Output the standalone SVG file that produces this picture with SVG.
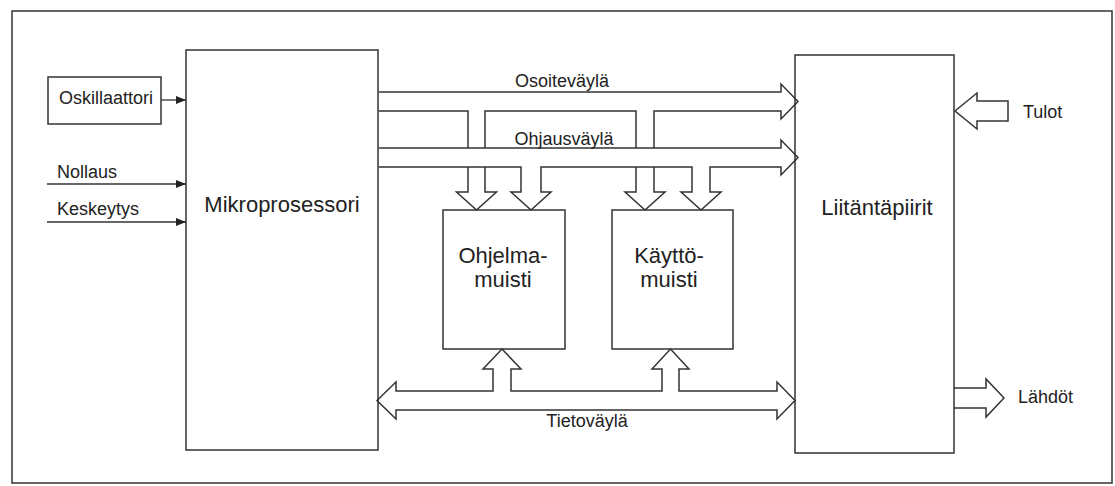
<svg xmlns="http://www.w3.org/2000/svg" width="1115" height="486" viewBox="0 0 1115 486">
<style>
.box{fill:none;stroke:#333;stroke-width:1.5}
.bus{fill:none;stroke:#333;stroke-width:1.5;stroke-linejoin:miter}
.ln{fill:none;stroke:#333;stroke-width:1.3}
.t{font-family:"Liberation Sans",Arial,sans-serif;fill:#222}
.s18{font-size:18px}
.s22{font-size:22px}
</style>
<defs>
<marker id="ah" viewBox="0 0 10 8" refX="10" refY="4" markerWidth="10" markerHeight="8" markerUnits="userSpaceOnUse" orient="auto">
<path d="M0,0 L10,4 L0,8 Z" fill="#222"/>
</marker>
</defs>
<rect width="1115" height="486" fill="#fff"/>
<rect id="frame" x="12" y="11" width="1100" height="472" class="box"/>

<g id="oskillaattori">
<rect x="48" y="77" width="113" height="47" class="box"/>
<text x="59" y="104" class="t s18">Oskillaattori</text>
</g>
<g id="nollaus"><text x="57" y="178" class="t s18">Nollaus</text></g>
<g id="keskeytys"><text x="57" y="215" class="t s18">Keskeytys</text></g>

<g id="mikroprosessori">
<rect x="186" y="50" width="192" height="400" class="box"/>
<text x="282" y="212" class="t s22" text-anchor="middle">Mikroprosessori</text>
</g>

<g id="ohjelmamuisti">
<rect x="443" y="210" width="122" height="139" class="box"/>
<text x="503" y="263" class="t s22" text-anchor="middle">Ohjelma-</text>
<text x="503" y="287" class="t s22" text-anchor="middle">muisti</text>
</g>

<g id="kayttomuisti">
<rect x="612" y="210" width="121" height="139" class="box"/>
<text x="669" y="263" class="t s22" text-anchor="middle">Käyttö-</text>
<text x="669" y="287" class="t s22" text-anchor="middle">muisti</text>
</g>

<g id="liitantapiirit">
<rect x="795" y="55" width="159" height="398" class="box"/>
<text x="877" y="215" class="t s22" text-anchor="middle">Liitäntäpiirit</text>
</g>

<g id="tulot"><text x="1023" y="118" class="t s18">Tulot</text></g>
<g id="lahdot"><text x="1018" y="403" class="t s18">Lähdöt</text></g>

<g id="connectors">
<line x1="161" y1="100" x2="186" y2="100" class="ln" marker-end="url(#ah)"/>
<line x1="47" y1="184" x2="186" y2="184" class="ln" marker-end="url(#ah)"/>
<line x1="47" y1="222" x2="186" y2="222" class="ln" marker-end="url(#ah)"/>

<!-- Osoiteväylä -->
<path class="bus" d="M379,92 H781 V84 L798,101.5 L781,119 V111 H654 V148 M636,148 V111 H485 V148 M468,148 V111 H379"/>
<path class="bus" d="M468,167 V192 H456.5 L476.5,210 L496.5,192 H485 V167 M636,167 V192 H625 L645,210 L665,192 H654 V167"/>
<text x="562" y="87" class="t s18" text-anchor="middle">Osoiteväylä</text>

<!-- Ohjausväylä -->
<path class="bus" d="M379,167 H521 V192 H511 L531,210 L551,192 H541 V167 H692 V192 H681 L701,210 L721,192 H710 V167 H781 V175 L798,157.5 L781,140 V148 H379"/>
<text x="564" y="145" class="t s18" text-anchor="middle">Ohjausväylä</text>

<!-- Tietoväylä -->
<path class="bus" d="M377,400.5 L396,382 V391 H493 V369 H483 L502,349 L521,369 H511 V391 H662 V369 H652 L670.5,349 L689,369 H679 V391 H777 V382 L795,400.5 L777,419 V410 H396 V419 Z"/>
<text x="587" y="427" class="t s18" text-anchor="middle">Tietoväylä</text>

<!-- Tulot -->
<path class="bus" d="M955,111 L977,93 V101 H1008 V121 H977 V129 Z"/>
<!-- Lähdöt -->
<path class="bus" d="M954,388 H986 V379 L1004,398 L986,417 V408 H954"/>
</g>
</svg>
